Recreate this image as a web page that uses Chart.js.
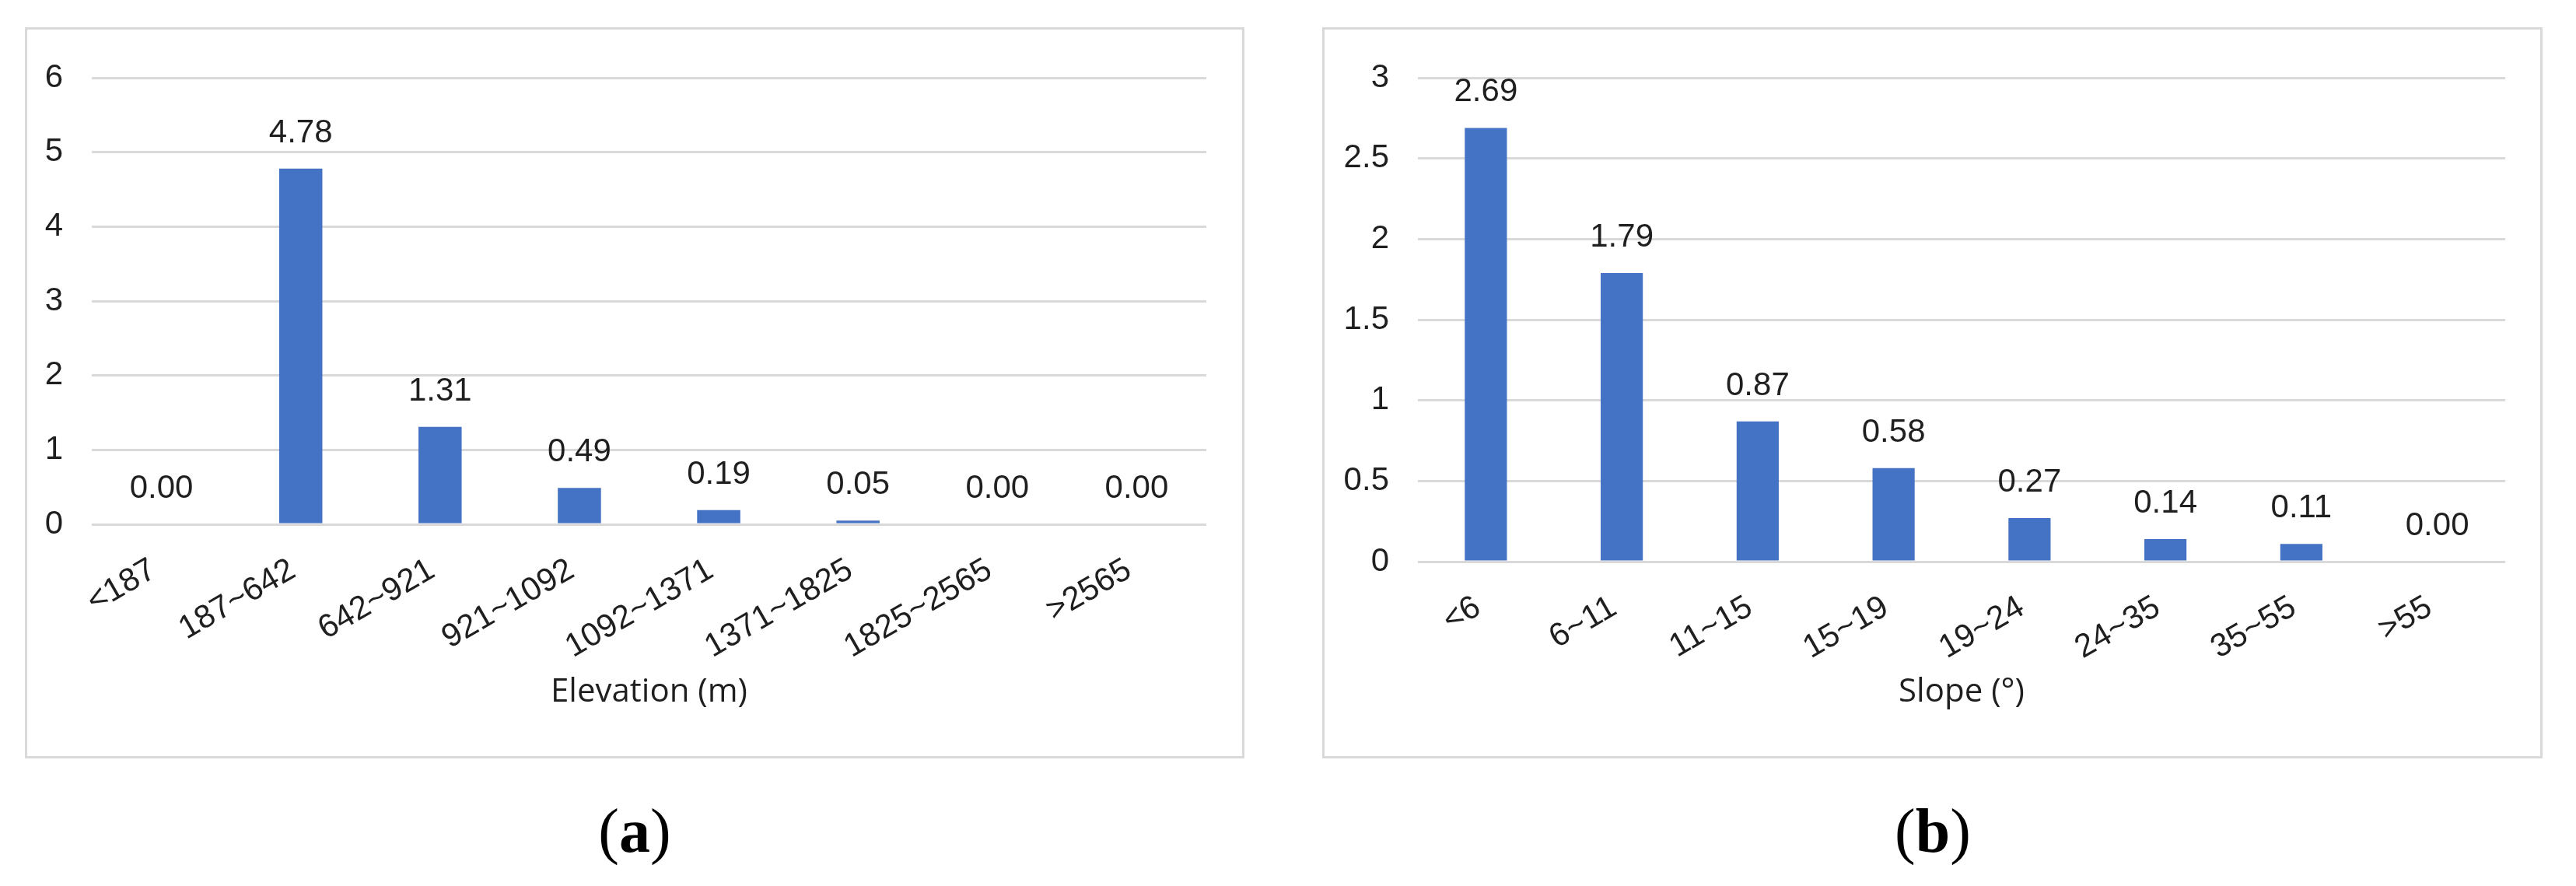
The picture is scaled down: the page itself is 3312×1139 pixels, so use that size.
<!DOCTYPE html>
<html>
<head>
<meta charset="utf-8">
<script src="https://cdn.jsdelivr.net/npm/chart.js@4.4.1/dist/chart.umd.min.js"></script>
<style>
  html, body { margin: 0; padding: 0; background: #fff; }
  body { width: 3312px; height: 1139px; position: relative; overflow: hidden; }
  .panel { position: absolute; box-sizing: border-box; border: 3px solid #d9d9d9; background: #fff; }
  .panel canvas { position: absolute; left: 0; top: 0; }
  .caption { position: absolute; width: 200px; text-align: center; font-family: "Liberation Serif", "DejaVu Serif", serif; font-size: 80px; line-height: 1; color: #000; }
</style>
</head>
<body>

<div class="panel" id="panel-a" style="left:32px; top:35px; width:1568px; height:940px;">
  <canvas id="chart-a"></canvas>
</div>
<div class="panel" id="panel-b" style="left:1700px; top:35px; width:1569px; height:940px;">
  <canvas id="chart-b"></canvas>
</div>

<div class="caption" style="left:716px; top:1028px;">(<b>a</b>)</div>
<div class="caption" style="left:2385px; top:1028px;">(<b>b</b>)</div>

<script>
/* data */
const elevationLabels = ['<187', '187~642', '642~921', '921~1092', '1092~1371', '1371~1825', '1825~2565', '>2565'];
const elevationValues = [0.00, 4.78, 1.31, 0.49, 0.19, 0.05, 0.00, 0.00];
const elevationTicks = { max: 6, step: 1 };

const slopeLabels = ['<6', '6~11', '11~15', '15~19', '19~24', '24~35', '35~55', '>55'];
const slopeValues = [2.69, 1.79, 0.87, 0.58, 0.27, 0.14, 0.11, 0.00];
const slopeTicks = { max: 3, step: 0.5 };

const BAR_COLOR = '#4472C4';
const GRID_COLOR = '#d9d9d9';
const TEXT_COLOR = '#1f1f1f';
const SANS = '"Liberation Sans", Arial, sans-serif';

// value labels above each bar (no datalabels plugin available offline)
const barValueLabels = {
  id: 'barValueLabels',
  afterDatasetsDraw(chart) {
    const ctx = chart.ctx;
    const meta = chart.getDatasetMeta(0);
    const values = chart.data.datasets[0].data;
    ctx.save();
    ctx.font = '42px ' + SANS;
    ctx.fillStyle = TEXT_COLOR;
    ctx.textAlign = 'center';
    ctx.textBaseline = 'alphabetic';
    meta.data.forEach((bar, i) => {
      ctx.fillText(values[i].toFixed(2), bar.x, bar.y - 34);
    });
    ctx.restore();
  }
};

function makeChart(id, labels, values, ticks, title, geom) {
  const canvas = document.getElementById(id);
  canvas.width = geom.w;
  canvas.height = geom.h;
  canvas.style.width = geom.w + 'px';
  canvas.style.height = geom.h + 'px';

  return new Chart(canvas, {
    type: 'bar',
    data: {
      labels: labels,
      datasets: [{
        data: values,
        backgroundColor: BAR_COLOR,
        borderWidth: 0,
        barPercentage: 0.31,
        categoryPercentage: 1.0
      }]
    },
    options: {
      responsive: false,
      animation: false,
      events: [],
      layout: { padding: { left: 0, top: geom.top, right: geom.right, bottom: 0 } },
      plugins: { legend: { display: false }, tooltip: { enabled: false } },
      scales: {
        x: {
          grid: { display: false },
          border: { display: false },
          ticks: {
            color: TEXT_COLOR,
            font: { family: SANS, size: 42 },
            minRotation: 30,
            maxRotation: 30,
            autoSkip: false,
            padding: 26,
            labelOffset: -10
          },
          title: {
            display: true,
            text: title,
            color: TEXT_COLOR,
            font: { family: '"Open Sans", "Noto Sans", sans-serif', size: 42 },
            padding: { top: 0, bottom: 57 }
          },
          afterFit: s => { s.height = geom.xAxisH; }
        },
        y: {
          min: 0,
          max: ticks.max,
          grid: { color: GRID_COLOR, lineWidth: 3, drawTicks: false },
          border: { display: false },
          ticks: {
            stepSize: ticks.step,
            color: TEXT_COLOR,
            font: { family: SANS, size: 42 },
            padding: 37,
            callback: v => String(Number(v))
          },
          afterFit: s => { s.width = geom.yAxisW; }
        }
      }
    },
    plugins: [barValueLabels]
  });
}

makeChart('chart-a', elevationLabels, elevationValues, elevationTicks, 'Elevation (m)',
  { w: 1562, h: 934, top: 44, right: 46, yAxisW: 83, xAxisH: 298 });
makeChart('chart-b', slopeLabels, slopeValues, slopeTicks, 'Slope (°)',
  { w: 1563, h: 934, top: 43, right: 45, yAxisW: 120, xAxisH: 250 });
</script>
</body>
</html>
